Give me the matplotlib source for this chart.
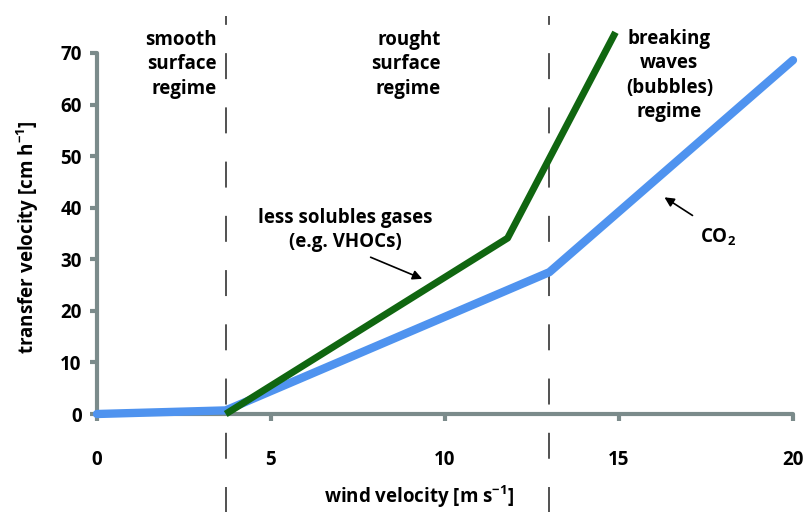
import matplotlib.pyplot as plt

plt.rcParams['font.family'] = ['Open Sans', 'DejaVu Sans']
plt.rcParams['mathtext.fontset'] = 'custom'
plt.rcParams['mathtext.rm'] = 'Open Sans'
plt.rcParams['mathtext.bf'] = 'Open Sans:bold'

# transfer velocity vs wind speed
co2_wind = [0, 3.7, 13.0, 20.0]
co2_k = [0, 0.7, 27.5, 68.6]
vhoc_wind = [3.7, 11.8, 14.9]
vhoc_k = [0, 34.1, 74.0]

# regime boundaries
regime_bounds = [3.7, 13.0]

x_ticks = [0, 5, 10, 15, 20]
y_ticks = [0, 10, 20, 30, 40, 50, 60, 70]

axis_grey = '#7b8b8b'

fig = plt.figure(figsize=(8.08, 5.12), dpi=100)
ax = fig.add_axes([0.12, 0.1914, 0.8614, 0.7052])

ax.plot(co2_wind, co2_k, color='#4f93ef', lw=6, solid_capstyle='round', clip_on=False, zorder=3)
ax.plot(vhoc_wind, vhoc_k, color='#106610', lw=5, solid_capstyle='butt', clip_on=False, zorder=4)

for xb in regime_bounds:
    ax.plot([xb, xb], [-19.2, 77.2], color='#222222', lw=1.1,
            linestyle=(0, (17, 18.5)), clip_on=False, zorder=2)

ax.set_xlim(0, 20)
ax.set_ylim(0, 70)

for side in ['top', 'right']:
    ax.spines[side].set_visible(False)
for side in ['left', 'bottom']:
    ax.spines[side].set_color(axis_grey)
    ax.spines[side].set_linewidth(3)
    ax.spines[side].set_capstyle('round')

ax.set_xticks(x_ticks)
ax.set_yticks(y_ticks)
ax.tick_params(axis='x', colors=axis_grey, length=5, width=3, pad=21, labelsize=13.5)
ax.tick_params(axis='y', colors=axis_grey, length=5, width=3, pad=6, labelsize=13.5)
for lbl in ax.get_xticklabels() + ax.get_yticklabels():
    lbl.set_color('black')
    lbl.set_fontweight('bold')

ax.text(0.463, -0.23, 'wind velocity [m s$^{\\mathbf{-1}}$]', transform=ax.transAxes,
        ha='center', va='center', fontsize=13.5, fontweight='bold')
ax.text(-0.1, 0.49, 'transfer velocity [cm h$^{\\mathbf{-1}}$]', transform=ax.transAxes,
        ha='center', va='center', rotation=90, fontsize=13.5, fontweight='bold')

txt = dict(fontsize=13.5, fontweight='bold', linespacing=1.3)
ax.text(3.45, 67.8, 'smooth\nsurface\nregime', ha='right', va='center', **txt)
ax.text(9.88, 67.8, 'rought\nsurface\nregime', ha='right', va='center', **txt)
ax.text(16.45, 65.6, 'breaking\nwaves\n(bubbles)\nregime', ha='center', va='center', **txt)
ax.text(7.13, 35.7, 'less solubles gases\n(e.g. VHOCs)', ha='center', va='center', **txt)
ax.text(17.85, 34.3, 'CO$_\\mathbf{2}$', ha='center', va='center', **txt)

arrow = dict(arrowstyle='-|>', color='black', lw=1.2, mutation_scale=14)
ax.annotate('', xy=(9.42, 26.0), xytext=(7.79, 30.6), arrowprops=arrow)
ax.annotate('', xy=(16.24, 42.3), xytext=(17.18, 38.2), arrowprops=arrow)

fig.savefig('out.png', dpi=100)
